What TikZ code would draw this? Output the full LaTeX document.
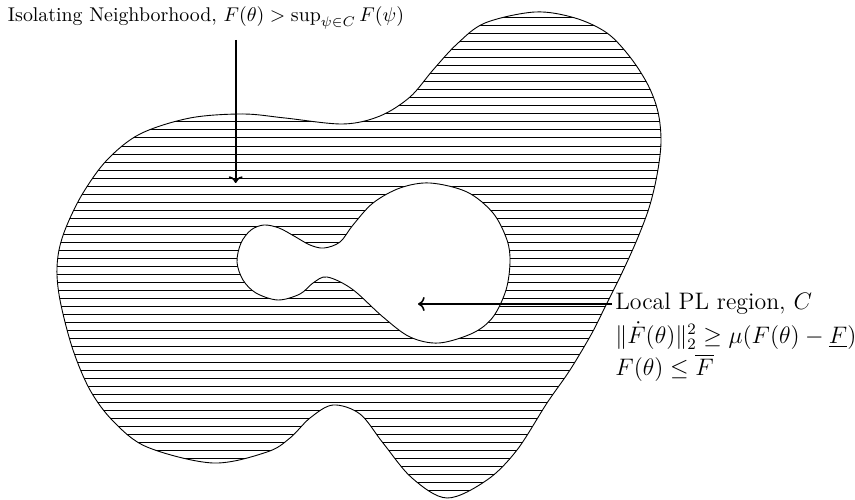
\documentclass[tikz,border=0pt]{standalone}
\usepackage{amsmath,amssymb}
\usepackage{tikz}
\usetikzlibrary{arrows.meta,positioning}
\tikzset{
  blob/.style={draw=black,line width=0.45pt},
  hatch/.style={draw=black,line width=0.5pt},
  ar/.style={->,thick},
  lab/.style={inner sep=1.5pt,align=left},
}
\newcommand\outerblob{plot[smooth cycle,tension=0.55] coordinates {
  (57,275) (59,250) (67,225) (83,193) (107,160) (140,134) (190,118)
  (243,114) (285,118) (343,124) (380,116) (410,97) (433,70) (457,44)
  (485,23) (535,12) (575,18) (607,33) (630,57) (648,85) (658,112)
  (661,142) (657,175) (649,208) (636,242) (620,277) (606,305) (592,333)
  (570,370) (547,403) (517,450) (487,480) (447,498) (412,478) (383,443)
  (360,414) (333,405) (310,418) (290,438) (267,452) (213,463) (147,447)
  (113,421) (90,390) (73,350) (61,305)}}
\newcommand\innerblob{plot[smooth cycle,tension=0.55] coordinates {
  (237,262) (241,243) (251,230) (264,225) (279,228) (294,236) (310,245)
  (324,248) (340,242) (353,225) (373,203) (400,188) (430,183) (467,192)
  (493,213) (507,240) (510,262) (506,290) (493,317) (473,333) (439,343)
  (410,337) (383,317) (352,289) (327,277) (313,283) (300,294) (278,300)
  (256,293) (243,280)}}
\begin{document}
\begin{tikzpicture}[x=0.503pt,y=-0.503pt]
  \useasboundingbox (0,0) rectangle (855,500);
  % hatched neighbourhood
  \begin{scope}
    \clip \outerblob;
    \foreach \yy in {2,10,...,498}
      \draw[hatch] (40,\yy) -- (680,\yy);
  \end{scope}
  \fill[white] \innerblob;
  \draw[blob] \outerblob;
  \draw[blob] \innerblob;
  % labels and arrows
  \node[lab] (iso) at (206,18) {Isolating Neighborhood, $F(\theta) > \sup_{\psi\in C} F(\psi)$};
  \coordinate (isostart) at (235.7,40);
  \coordinate (isotip) at (235.7,183);
  \draw[ar] (isostart) -- (isotip);
  \node[lab,font=\large,anchor=west] (pl) at (612,304) {Local PL region, $C$};
  \node[lab,font=\large,anchor=north west] (plcond) at (pl.south west)
    {$\|\dot{F}(\theta)\|_2^2 \geq \mu(F(\theta)-\underline{F})$\\[2pt]$F(\theta)\leq\overline{F}$};
  \coordinate (pltip) at (418,304);
  \draw[ar] (pl.west) -- (pltip);
\end{tikzpicture}
\end{document}
